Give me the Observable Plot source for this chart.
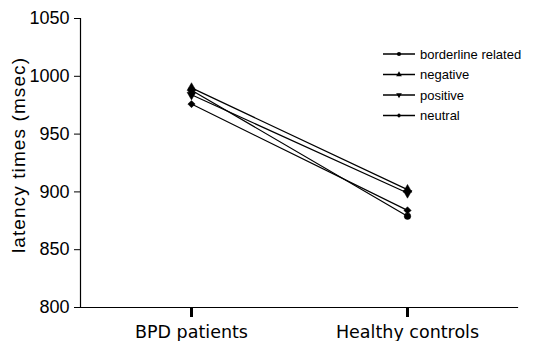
<!DOCTYPE html>
<html>
<head>
<meta charset="utf-8">
<script src="https://cdn.jsdelivr.net/npm/d3@7"></script>
<script src="https://cdn.jsdelivr.net/npm/@observablehq/plot@0.6"></script>
<style>
  html, body { margin: 0; padding: 0; background: #fff; }
  #wrap { position: relative; width: 541px; height: 341px; }
  #legend { position: absolute; left: 0; top: 0; }
</style>
</head>
<body>
<div id="wrap"></div>
<script>
// ---- data ----
const groups = ["BPD patients", "Healthy controls"];
const conditions = ["borderline related", "negative", "positive", "neutral"];
const bpdValues = [988, 990, 984, 976];
const healthyValues = [879, 902, 899, 884];
const yTicks = [800, 850, 900, 950, 1000, 1050];
const yLabel = "latency times (msec)";

// ---- styles (not data) ----
const markerStyle = {
  "borderline related": {symbol: "circle", rotate: 0},
  "negative": {symbol: "triangle", rotate: 0},
  "positive": {symbol: "triangle", rotate: 180},
  "neutral": {symbol: "diamond2", rotate: 0}
};

const rows = [];
conditions.forEach((c, i) => {
  rows.push({group: groups[0], condition: c, value: bpdValues[i]});
  rows.push({group: groups[1], condition: c, value: healthyValues[i]});
});

const dotMarks = conditions.map(c => Plot.dot(rows.filter(d => d.condition === c), {
  x: "group", y: "value", symbol: markerStyle[c].symbol, rotate: markerStyle[c].rotate,
  r: 3.3, fill: "black", stroke: "black", strokeWidth: 0.5
}));

const chart = Plot.plot({
  width: 541, height: 341,
  marginLeft: 80, marginRight: 24, marginTop: 18, marginBottom: 34,
  style: {fontFamily: "'Liberation Sans', Arial, sans-serif", fontSize: "18px", color: "#000", background: "#fff", overflow: "visible"},
  x: {type: "point", domain: groups, padding: 0.51, label: null},
  y: {domain: [800, 1050], label: null},
  marks: [
    Plot.axisY({ticks: yTicks, tickFormat: d3.format("d"), tickSize: 6, tickPadding: 5, fontSize: 18, label: null}),
    Plot.axisX({tickSize: 10, strokeWidth: 3, tickPadding: 8, fontSize: 17.5, fontFamily: "'DejaVu Sans', sans-serif", label: null}),
    Plot.frame({anchor: "left", strokeWidth: 1.2}),
    Plot.frame({anchor: "bottom", strokeWidth: 1.2}),
    Plot.text([yLabel], {frameAnchor: "left", textAnchor: "middle", rotate: -90, dx: -62, dy: -8, fontSize: 19, fill: "black", text: d => d, style: "letter-spacing:1.1px"}),
    Plot.line(rows, {x: "group", y: "value", z: "condition", stroke: "black", strokeWidth: 1.2}),
    ...dotMarks
  ]
});
chart.querySelectorAll("text").forEach(t => { if (t.textContent === yLabel) t.style.letterSpacing = "1.1px"; });
document.getElementById("wrap").appendChild(chart);

// ---- legend ----
const legend = d3.select("#wrap").append("svg")
  .attr("id", "legend").attr("width", 541).attr("height", 341);
const symMap = {circle: d3.symbolCircle, triangle: d3.symbolTriangle, diamond2: d3.symbolDiamond2};
const lx0 = 383, lx1 = 415, ltext = 420, ly0 = 54, lstep = 20.5;
conditions.forEach((c, i) => {
  const y = ly0 + i * lstep;
  const g = legend.append("g");
  g.append("line").attr("x1", lx0).attr("x2", lx1).attr("y1", y).attr("y2", y)
    .attr("stroke", "black").attr("stroke-width", 1.5);
  g.append("path").attr("d", d3.symbol(symMap[markerStyle[c].symbol], 14)())
    .attr("transform", `translate(${(lx0 + lx1) / 2},${y}) rotate(${markerStyle[c].rotate})`)
    .attr("fill", "black");
  g.append("text").attr("x", ltext).attr("y", y).attr("dy", "0.35em")
    .attr("font-family", "'Liberation Sans', Arial, sans-serif").attr("font-size", 13)
    .attr("fill", "black").text(c);
});
</script>
</body>
</html>
